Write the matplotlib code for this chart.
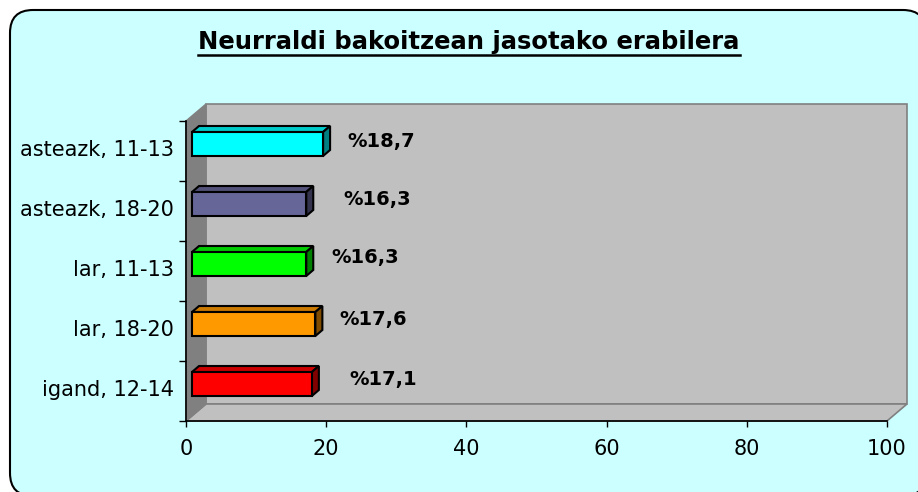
import matplotlib
matplotlib.use('Agg')
import matplotlib.pyplot as plt
from matplotlib.patches import Polygon, FancyBboxPatch
from matplotlib.transforms import IdentityTransform
from matplotlib.lines import Line2D
import matplotlib.colors as mcolors
import numpy as np

# data (bottom to top)
categories = ['igand, 12-14', 'lar, 18-20', 'lar, 11-13', 'asteazk, 18-20', 'asteazk, 11-13']
values = [17.1, 17.6, 16.3, 16.3, 18.7]
labels = ['%17,1', '%17,6', '%16,3', '%16,3', '%18,7']
colors = ['#FF0000', '#FF9900', '#00FF00', '#666699', '#00FFFF']
x_ticks = [0, 20, 40, 60, 80, 100]
title = 'Neurraldi bakoitzean jasotako erabilera'

# label nudges in pixels (Excel placed them a bit unevenly)
lbl_dx = [38, 24, 25, 37, 24]
lbl_dy = [11, 11, 14, 11, 9]

W, H = 918, 492
fig = plt.figure(figsize=(W / 100, H / 100), dpi=100)
fig.patch.set_facecolor('white')

# rounded chart area background
bg = FancyBboxPatch((10, -4), 916, 486, boxstyle='round,pad=0,rounding_size=23',
                    transform=IdentityTransform(), facecolor='#CCFFFF',
                    edgecolor='black', linewidth=1.5, zorder=-5)
fig.patches.append(bg)

# plot area in pixels: x 186..887, y 121..421 (from top)
ax = fig.add_axes([186 / W, 1 - 421 / H, 701 / W, 300 / H])
ax.set_xlim(0, 100)
ax.set_ylim(0, 5)
ax.patch.set_visible(False)
for s in ax.spines.values():
    s.set_visible(False)

px_x = 701 / 100.0   # pixels per x unit
px_y = 300 / 5.0     # pixels per category

# wall depth
dx, dy = 20 / px_x, 17 / px_y

# back wall, floor, side wall
ax.add_patch(Polygon([(dx, dy), (100 + dx, dy), (100 + dx, 5 + dy), (dx, 5 + dy)],
                     closed=True, facecolor='#C0C0C0', edgecolor='#808080',
                     linewidth=1.2, clip_on=False, zorder=1))
ax.add_patch(Polygon([(0, 0), (100, 0), (100 + dx, dy), (dx, dy)],
                     closed=True, facecolor='#C0C0C0', edgecolor='#808080',
                     linewidth=1.2, clip_on=False, zorder=1))
ax.add_patch(Polygon([(0, 0), (0, 5), (dx, 5 + dy), (dx, dy)],
                     closed=True, facecolor='#808080', edgecolor='#808080',
                     linewidth=1.0, clip_on=False, zorder=1))

# axis lines
ax.add_line(Line2D([0, 0], [0, 5], color='black', linewidth=1.2, clip_on=False, zorder=3))
ax.add_line(Line2D([0, 100], [0, 0], color='black', linewidth=1.2, clip_on=False, zorder=3))

# 3d bars
fx, fy = 6 / px_x, 7 / px_y        # front face shift
bdx, bdy = 7 / px_x, 6 / px_y      # bar depth
bh = 24 / px_y
for i, (v, c) in enumerate(zip(values, colors)):
    base = mcolors.to_rgb(c)
    top_c = tuple(np.array(base) * 0.8)
    side_c = tuple(np.array(base) * 0.5)
    x0 = fx
    y0 = i + 0.5 - bh / 2 + fy
    front = [(x0, y0), (x0 + v, y0), (x0 + v, y0 + bh), (x0, y0 + bh)]
    top = [(x0, y0 + bh), (x0 + v, y0 + bh), (x0 + v + bdx, y0 + bh + bdy), (x0 + bdx, y0 + bh + bdy)]
    side = [(x0 + v, y0), (x0 + v + bdx, y0 + bdy), (x0 + v + bdx, y0 + bh + bdy), (x0 + v, y0 + bh)]
    for pts, fc in [(top, top_c), (side, side_c), (front, base)]:
        ax.add_patch(Polygon(pts, closed=True, facecolor=fc, edgecolor='black',
                             linewidth=1.5, joinstyle='miter', clip_on=False, zorder=4))
    ax.annotate(labels[i], xy=(x0 + v, i + 0.5), xytext=(lbl_dx[i], lbl_dy[i]),
                textcoords='offset pixels', ha='left', va='center',
                fontsize=14, fontweight='bold', zorder=5, annotation_clip=False)

# ticks
ax.set_xticks(x_ticks)
ax.set_xticklabels([str(t) for t in x_ticks])
ax.tick_params(axis='x', direction='out', length=4, width=1.0, pad=9, labelsize=15)
ax.set_yticks(np.arange(5) + 0.55)
ax.set_yticklabels(categories)
ax.set_yticks(np.arange(6), minor=True)
ax.tick_params(axis='y', which='major', length=0, pad=8.5, labelsize=15)
ax.tick_params(axis='y', which='minor', direction='out', length=5, width=1.0)

# title with underline
t = fig.text(469 / W, 1 - 49 / H, title, ha='center', va='baseline',
             fontsize=17.5, fontweight='bold')
fig.canvas.draw()
bb = t.get_window_extent(renderer=fig.canvas.get_renderer())
uy = H - 55
fig.lines.append(Line2D([bb.x0, bb.x1], [uy, uy], transform=IdentityTransform(),
                        color='black', linewidth=1.8))

fig.savefig('out.png', dpi=100)
